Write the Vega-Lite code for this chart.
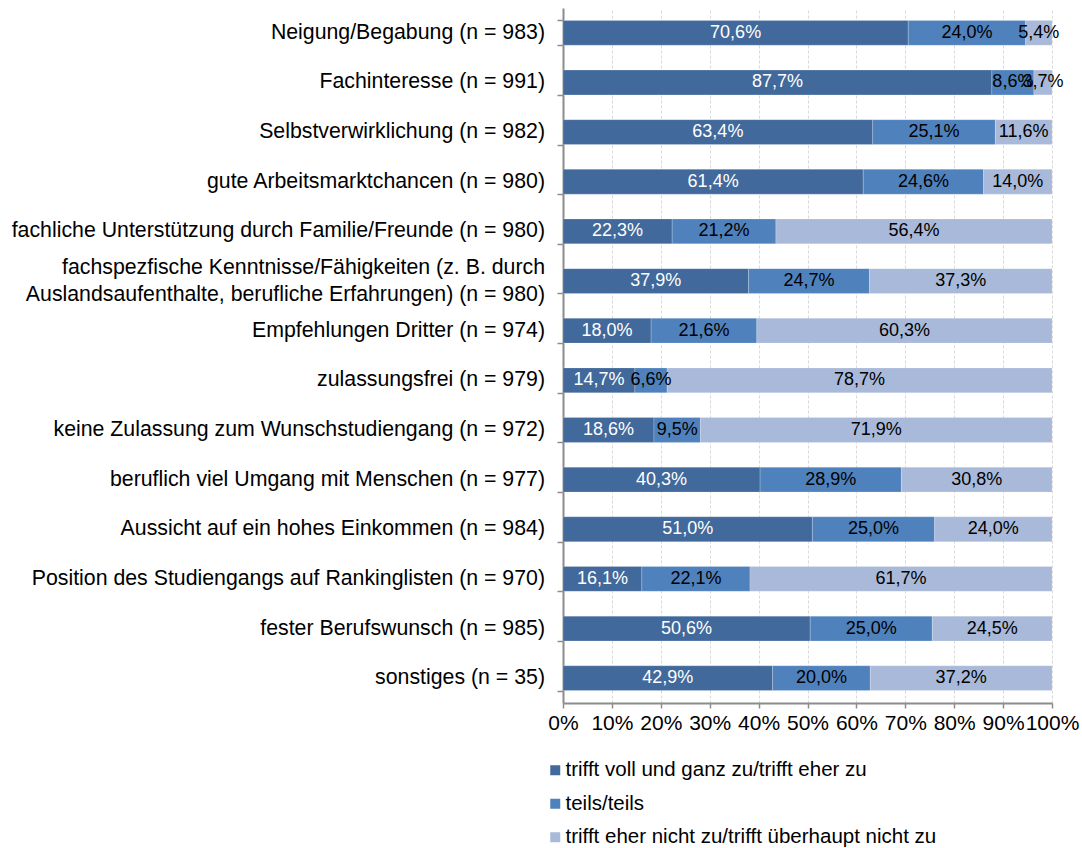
{
  "$schema": "https://vega.github.io/schema/vega-lite/v6.json",
  "width": 489,
  "height": 695,
  "autosize": {"type": "none"},
  "padding": {"left": 563, "top": 8, "right": 30, "bottom": 145},
  "config": {
    "font": "Liberation Sans",
    "view": {"stroke": null}
  },
  "data": {
    "values": [
      {"cat": "Neigung/Begabung (n = 983)", "r": 1, "s": "trifft voll und ganz zu/trifft eher zu", "o": 1, "v": 70.6},
      {"cat": "Neigung/Begabung (n = 983)", "r": 1, "s": "teils/teils", "o": 2, "v": 24.0},
      {"cat": "Neigung/Begabung (n = 983)", "r": 1, "s": "trifft eher nicht zu/trifft überhaupt nicht zu", "o": 3, "v": 5.4},
      {"cat": "Fachinteresse (n = 991)", "r": 2, "s": "trifft voll und ganz zu/trifft eher zu", "o": 1, "v": 87.7},
      {"cat": "Fachinteresse (n = 991)", "r": 2, "s": "teils/teils", "o": 2, "v": 8.6},
      {"cat": "Fachinteresse (n = 991)", "r": 2, "s": "trifft eher nicht zu/trifft überhaupt nicht zu", "o": 3, "v": 3.7},
      {"cat": "Selbstverwirklichung (n = 982)", "r": 3, "s": "trifft voll und ganz zu/trifft eher zu", "o": 1, "v": 63.4},
      {"cat": "Selbstverwirklichung (n = 982)", "r": 3, "s": "teils/teils", "o": 2, "v": 25.1},
      {"cat": "Selbstverwirklichung (n = 982)", "r": 3, "s": "trifft eher nicht zu/trifft überhaupt nicht zu", "o": 3, "v": 11.6},
      {"cat": "gute Arbeitsmarktchancen (n = 980)", "r": 4, "s": "trifft voll und ganz zu/trifft eher zu", "o": 1, "v": 61.4},
      {"cat": "gute Arbeitsmarktchancen (n = 980)", "r": 4, "s": "teils/teils", "o": 2, "v": 24.6},
      {"cat": "gute Arbeitsmarktchancen (n = 980)", "r": 4, "s": "trifft eher nicht zu/trifft überhaupt nicht zu", "o": 3, "v": 14.0},
      {"cat": "fachliche Unterstützung durch Familie/Freunde (n = 980)", "r": 5, "s": "trifft voll und ganz zu/trifft eher zu", "o": 1, "v": 22.3},
      {"cat": "fachliche Unterstützung durch Familie/Freunde (n = 980)", "r": 5, "s": "teils/teils", "o": 2, "v": 21.2},
      {"cat": "fachliche Unterstützung durch Familie/Freunde (n = 980)", "r": 5, "s": "trifft eher nicht zu/trifft überhaupt nicht zu", "o": 3, "v": 56.4},
      {"cat": "fachspezfische Kenntnisse/Fähigkeiten (z. B. durch|Auslandsaufenthalte, berufliche Erfahrungen) (n = 980)", "r": 6, "s": "trifft voll und ganz zu/trifft eher zu", "o": 1, "v": 37.9},
      {"cat": "fachspezfische Kenntnisse/Fähigkeiten (z. B. durch|Auslandsaufenthalte, berufliche Erfahrungen) (n = 980)", "r": 6, "s": "teils/teils", "o": 2, "v": 24.7},
      {"cat": "fachspezfische Kenntnisse/Fähigkeiten (z. B. durch|Auslandsaufenthalte, berufliche Erfahrungen) (n = 980)", "r": 6, "s": "trifft eher nicht zu/trifft überhaupt nicht zu", "o": 3, "v": 37.3},
      {"cat": "Empfehlungen Dritter (n = 974)", "r": 7, "s": "trifft voll und ganz zu/trifft eher zu", "o": 1, "v": 18.0},
      {"cat": "Empfehlungen Dritter (n = 974)", "r": 7, "s": "teils/teils", "o": 2, "v": 21.6},
      {"cat": "Empfehlungen Dritter (n = 974)", "r": 7, "s": "trifft eher nicht zu/trifft überhaupt nicht zu", "o": 3, "v": 60.3},
      {"cat": "zulassungsfrei (n = 979)", "r": 8, "s": "trifft voll und ganz zu/trifft eher zu", "o": 1, "v": 14.7},
      {"cat": "zulassungsfrei (n = 979)", "r": 8, "s": "teils/teils", "o": 2, "v": 6.6},
      {"cat": "zulassungsfrei (n = 979)", "r": 8, "s": "trifft eher nicht zu/trifft überhaupt nicht zu", "o": 3, "v": 78.7},
      {"cat": "keine Zulassung zum Wunschstudiengang (n = 972)", "r": 9, "s": "trifft voll und ganz zu/trifft eher zu", "o": 1, "v": 18.6},
      {"cat": "keine Zulassung zum Wunschstudiengang (n = 972)", "r": 9, "s": "teils/teils", "o": 2, "v": 9.5},
      {"cat": "keine Zulassung zum Wunschstudiengang (n = 972)", "r": 9, "s": "trifft eher nicht zu/trifft überhaupt nicht zu", "o": 3, "v": 71.9},
      {"cat": "beruflich viel Umgang mit Menschen (n = 977)", "r": 10, "s": "trifft voll und ganz zu/trifft eher zu", "o": 1, "v": 40.3},
      {"cat": "beruflich viel Umgang mit Menschen (n = 977)", "r": 10, "s": "teils/teils", "o": 2, "v": 28.9},
      {"cat": "beruflich viel Umgang mit Menschen (n = 977)", "r": 10, "s": "trifft eher nicht zu/trifft überhaupt nicht zu", "o": 3, "v": 30.8},
      {"cat": "Aussicht auf ein hohes Einkommen (n = 984)", "r": 11, "s": "trifft voll und ganz zu/trifft eher zu", "o": 1, "v": 51.0},
      {"cat": "Aussicht auf ein hohes Einkommen (n = 984)", "r": 11, "s": "teils/teils", "o": 2, "v": 25.0},
      {"cat": "Aussicht auf ein hohes Einkommen (n = 984)", "r": 11, "s": "trifft eher nicht zu/trifft überhaupt nicht zu", "o": 3, "v": 24.0},
      {"cat": "Position des Studiengangs auf Rankinglisten (n = 970)", "r": 12, "s": "trifft voll und ganz zu/trifft eher zu", "o": 1, "v": 16.1},
      {"cat": "Position des Studiengangs auf Rankinglisten (n = 970)", "r": 12, "s": "teils/teils", "o": 2, "v": 22.1},
      {"cat": "Position des Studiengangs auf Rankinglisten (n = 970)", "r": 12, "s": "trifft eher nicht zu/trifft überhaupt nicht zu", "o": 3, "v": 61.7},
      {"cat": "fester Berufswunsch (n = 985)", "r": 13, "s": "trifft voll und ganz zu/trifft eher zu", "o": 1, "v": 50.6},
      {"cat": "fester Berufswunsch (n = 985)", "r": 13, "s": "teils/teils", "o": 2, "v": 25.0},
      {"cat": "fester Berufswunsch (n = 985)", "r": 13, "s": "trifft eher nicht zu/trifft überhaupt nicht zu", "o": 3, "v": 24.5},
      {"cat": "sonstiges (n = 35)", "r": 14, "s": "trifft voll und ganz zu/trifft eher zu", "o": 1, "v": 42.9},
      {"cat": "sonstiges (n = 35)", "r": 14, "s": "teils/teils", "o": 2, "v": 20.0},
      {"cat": "sonstiges (n = 35)", "r": 14, "s": "trifft eher nicht zu/trifft überhaupt nicht zu", "o": 3, "v": 37.2}
    ]
  },
  "transform": [
    {"stack": "v", "groupby": ["cat"], "sort": [{"field": "o", "order": "ascending"}], "offset": "normalize", "as": ["v0", "v1"]},
    {"calculate": "(datum.v0 + datum.v1) / 2", "as": "mid"},
    {"calculate": "replace(format(datum.v, '.1f'), '.', ',') + '%'", "as": "lbl"},
    {"calculate": "split(datum.cat, '|')[0]", "as": "line1"},
    {"calculate": "indexof(datum.cat, '|') >= 0 ? split(datum.cat, '|')[1] : ''", "as": "line2"},
    {"calculate": "indexof(datum.cat, '|') >= 0", "as": "multi"}
  ],
  "encoding": {
    "y": {
      "field": "cat",
      "type": "nominal",
      "sort": {"field": "r", "op": "min", "order": "ascending"},
      "scale": {"paddingInner": 0.5, "paddingOuter": 0.25},
      "axis": {
        "title": null,
        "labels": false,
        "domainColor": "#8c8c8c",
        "domainWidth": 2,
        "ticks": true,
        "tickBand": "extent",
        "tickColor": "#8c8c8c",
        "tickSize": 6,
        "tickWidth": 1.5
      }
    }
  },
  "layer": [
    {
      "mark": {"type": "bar", "stroke": "#ffffff", "strokeWidth": 0.5, "strokeOpacity": 0.4},
      "encoding": {
        "x": {
          "field": "v0",
          "type": "quantitative",
          "scale": {"domain": [0, 1], "nice": false},
          "axis": {
            "title": null,
            "format": ".0%",
            "values": [0, 0.1, 0.2, 0.3, 0.4, 0.5, 0.6, 0.7, 0.8, 0.9, 1],
            "labelFontSize": 21,
            "labelColor": "#000000",
            "labelPadding": 4,
            "labelFlush": false,
            "labelOverlap": false,
            "domainColor": "#8c8c8c",
            "domainWidth": 2,
            "tickColor": "#8c8c8c",
            "tickSize": 5,
            "tickWidth": 1.5,
            "grid": true,
            "gridColor": "#d9d9d9",
            "gridDash": [3, 2]
          }
        },
        "x2": {"field": "v1"},
        "color": {
          "field": "s",
          "type": "nominal",
          "sort": ["trifft voll und ganz zu/trifft eher zu", "teils/teils", "trifft eher nicht zu/trifft überhaupt nicht zu"],
          "scale": {
            "domain": ["trifft voll und ganz zu/trifft eher zu", "teils/teils", "trifft eher nicht zu/trifft überhaupt nicht zu"],
            "range": ["#42699b", "#4f81bd", "#a9b9d9"]
          },
          "legend": {
            "title": null,
            "orient": "none",
            "legendX": -18,
            "legendY": 752,
            "direction": "vertical",
            "symbolType": "square",
            "symbolSize": 100,
            "symbolStrokeWidth": 0,
            "labelFontSize": 20.5,
            "labelColor": "#000000",
            "labelOffset": 0,
            "rowPadding": 12.5,
            "labelLimit": 600
          }
        }
      }
    },
    {
      "mark": {"type": "text", "fontSize": 18, "align": "center", "baseline": "middle"},
      "encoding": {
        "x": {"field": "mid", "type": "quantitative"},
        "text": {"field": "lbl"},
        "color": {
          "condition": {"test": "datum.o == 1", "value": "#ffffff"},
          "value": "#000000"
        }
      }
    },
    {
      "transform": [{"filter": "datum.o == 1 && !datum.multi"}],
      "mark": {"type": "text", "fontSize": 21.3, "align": "right", "baseline": "middle", "dx": -18, "color": "#000000"},
      "encoding": {
        "x": {"datum": 0, "type": "quantitative"},
        "text": {"field": "line1"}
      }
    },
    {
      "transform": [{"filter": "datum.o == 1 && datum.multi"}],
      "mark": {"type": "text", "fontSize": 21.3, "align": "right", "baseline": "middle", "dx": -18, "dy": -13.5, "color": "#000000"},
      "encoding": {
        "x": {"datum": 0, "type": "quantitative"},
        "text": {"field": "line1"}
      }
    },
    {
      "transform": [{"filter": "datum.o == 1 && datum.multi"}],
      "mark": {"type": "text", "fontSize": 21.3, "align": "right", "baseline": "middle", "dx": -18, "dy": 13.5, "color": "#000000"},
      "encoding": {
        "x": {"datum": 0, "type": "quantitative"},
        "text": {"field": "line2"}
      }
    }
  ]
}
